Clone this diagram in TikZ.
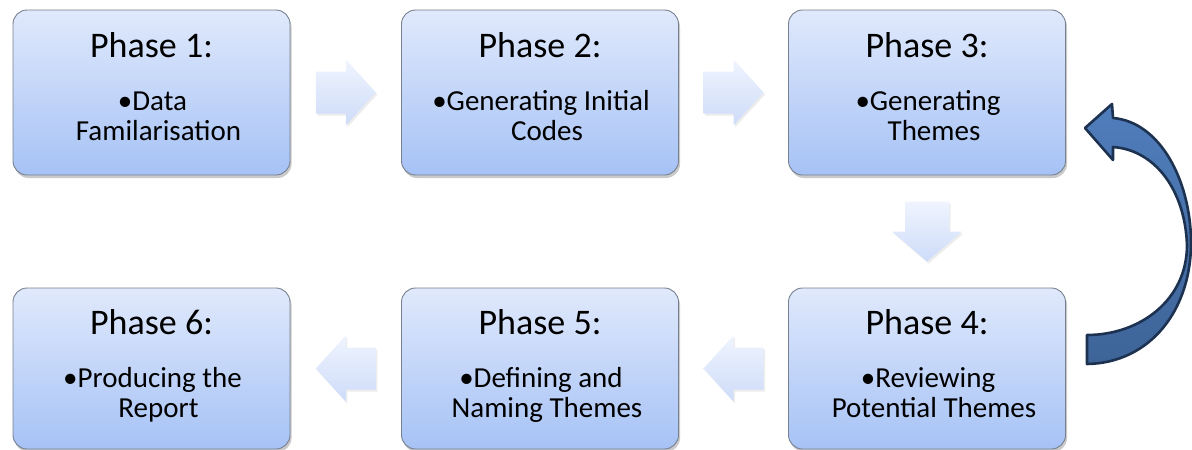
\documentclass[tikz,border=0pt]{standalone}
\usepackage{fontspec}
\setmainfont{Carlito}
\usetikzlibrary{shadows,calc}

\definecolor{boxtop}{RGB}{224,233,252}
\definecolor{boxbot}{RGB}{166,194,245}
\definecolor{boxline}{RGB}{118,128,142}
\definecolor{arrtop}{RGB}{239,244,254}
\definecolor{arrbot}{RGB}{206,220,249}
\definecolor{loopfill}{RGB}{80,126,188}
\definecolor{loopfilldark}{RGB}{62,100,152}
\definecolor{loopline}{RGB}{28,50,80}

% hanging-indent look: bullet line pulled left, continuation line pushed right
\newcommand{\bulletline}[1]{•#1\hspace*{6pt}}
\newcommand{\contline}[1]{\hspace*{6pt}#1}

\tikzset{
  phasebox/.style={draw=boxline, line width=0.9pt, rounded corners=14pt,
    top color=boxtop, bottom color=boxbot, minimum width=277pt, minimum height=165pt,
    inner sep=0pt, drop shadow={shadow xshift=1.5pt, shadow yshift=-3pt, opacity=0.35, fill=black!60}},
  phasetitle/.style={anchor=base, inner sep=0pt, font=\fontsize{36}{40}\selectfont},
  phasebody/.style={anchor=base, inner sep=0pt, align=center, font=\fontsize{29}{30}\selectfont},
  flowarrow/.style={top color=arrtop, bottom color=arrbot, draw=none,
    drop shadow={shadow xshift=1.5pt, shadow yshift=-2pt, opacity=0.15, fill=black!50}},
  pics/rightarrow/.style={code={
    \path[flowarrow] (-30,-21) -- (0,-21) -- (0,-33) -- (30,0) -- (0,33) -- (0,21) -- (-30,21) -- cycle;}},
  pics/leftarrow/.style={code={
    \path[flowarrow] (30,-21) -- (0,-21) -- (0,-33) -- (-30,0) -- (0,33) -- (0,21) -- (30,21) -- cycle;}},
  pics/downarrow/.style={code={
    \path[flowarrow] (-22,-30) -- (22,-30) -- (22,0) -- (35,0) -- (0,30) -- (-35,0) -- (-22,0) -- cycle;}},
}

\begin{document}
\begin{tikzpicture}[x=1pt, y=-1pt]
\useasboundingbox (0,0) rectangle (1192,450);

% phase boxes
\node[phasebox] (b1) at (151.5,92.5) {};
\node[phasebox] (b2) at (540,92.5) {};
\node[phasebox] (b3) at (927,92.5) {};
\node[phasebox, minimum height=161pt] (b4) at (927,368.5) {};
\node[phasebox, minimum height=161pt] (b5) at (540,368.5) {};
\node[phasebox, minimum height=161pt] (b6) at (151.5,368.5) {};

% titles and descriptions
\node[phasetitle] (t1) at (151.5,57) {Phase 1:};
\node[phasebody]  (d1) at (155.5,140) {\bulletline{Data}\\\contline{Familarisation}};
\node[phasetitle] (t2) at (540,57) {Phase 2:};
\node[phasebody]  (d2) at (544,140) {\bulletline{Generating Initial}\\\contline{Codes}};
\node[phasetitle] (t3) at (927,57) {Phase 3:};
\node[phasebody]  (d3) at (931,140) {\bulletline{Generating}\\\contline{Themes}};
\node[phasetitle] (t4) at (927,334) {Phase 4:};
\node[phasebody]  (d4) at (931,417) {\bulletline{Reviewing}\\\contline{Potential Themes}};
\node[phasetitle] (t5) at (540,334) {Phase 5:};
\node[phasebody]  (d5) at (544,417) {\bulletline{Defining and}\\\contline{Naming Themes}};
\node[phasetitle] (t6) at (151.5,334) {Phase 6:};
\node[phasebody]  (d6) at (155.5,417) {\bulletline{Producing the}\\\contline{Report}};

% flow arrows between phases
\path ($(b1.east)!0.5!(b2.west)$) pic {rightarrow};
\path ($(b2.east)!0.5!(b3.west)$) pic {rightarrow};
\path ($(b3.south)!0.5!(b4.north)$) pic {downarrow};
\path ($(b4.west)!0.5!(b5.east)$) pic {leftarrow};
\path ($(b5.west)!0.5!(b6.east)$) pic {leftarrow};

% curved arrow looping from phase 4 back to phase 3
\path[draw=loopline, line width=2.6pt, line join=round, top color=loopfill, bottom color=loopfilldark]
  (1085,128) -- (1112,104) -- (1113,118)
  .. controls (1160,122) and (1190,180) .. (1191,240)
  .. controls (1192,310) and (1150,363) .. (1087,364)
  -- (1087,335)
  .. controls (1140,335) and (1187,300) .. (1187,245)
  .. controls (1185,190) and (1155,150) .. (1113,147)
  -- (1113,160) -- cycle;
\end{tikzpicture}
\end{document}
